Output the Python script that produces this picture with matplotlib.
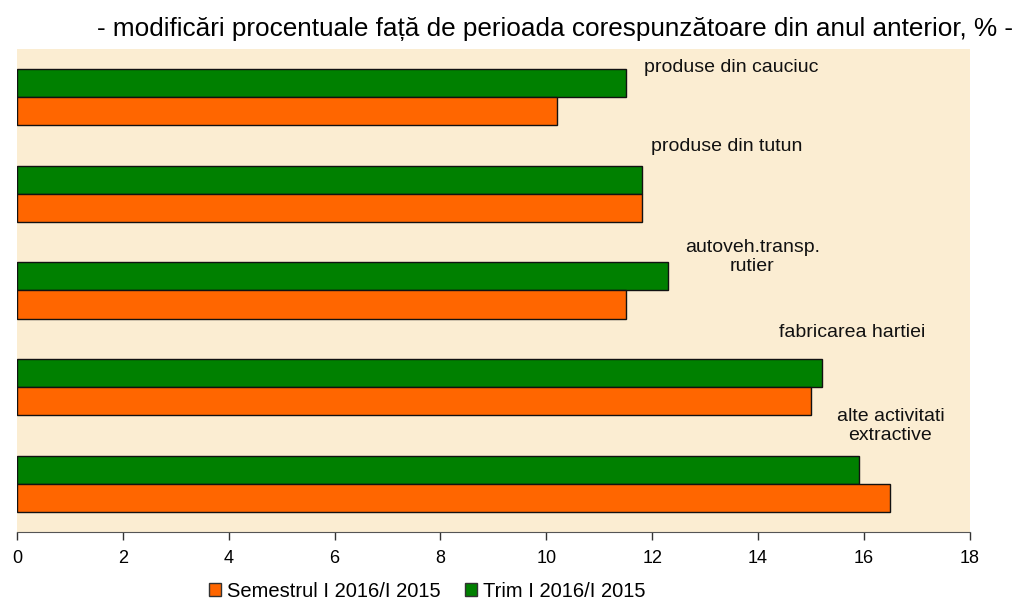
import matplotlib as mpl
import matplotlib.pyplot as plt
import numpy as np
from matplotlib.patches import Patch

categories = [
    "produse din cauciuc",
    "produse din tutun",
    "autoveh.transp.\nrutier",
    "fabricarea hartiei",
    "alte activitati\nextractive",
]
trim = [11.5, 11.8, 12.3, 15.2, 15.9]
semestru = [10.2, 11.8, 11.5, 15.0, 16.5]
series_labels = ["Semestrul I 2016/I 2015", "Trim I 2016/I 2015"]
title = "- modificări procentuale față de perioada corespunzătoare din anul anterior, % -"

# label placement in data coordinates (x value, y category position)
label_pos = [(13.49, -0.31), (13.40, 0.51), (13.89, 1.65), (15.77, 2.44), (16.50, 3.40)]

ORANGE = "#FF6600"
GREEN = "#008000"
BG = "#FBEDD2"

mpl.rcParams["font.family"] = ["Liberation Sans", "DejaVu Sans"]

fig = plt.figure(figsize=(10.18, 6.01), dpi=100)
ax = fig.add_axes([0.0167, 0.1148, 0.936, 0.8037])
ax.set_facecolor(BG)

y = np.arange(len(categories))
h = 0.29
ax.barh(y - h / 2, trim, height=h, color=GREEN, edgecolor="#111111", linewidth=1.0)
ax.barh(y + h / 2, semestru, height=h, color=ORANGE, edgecolor="#111111", linewidth=1.0)

for text, (lx, ly) in zip(categories, label_pos):
    ax.text(lx, ly, text, ha="center", va="center", fontsize=14,
            linespacing=1.15, color="#111111")

ax.set_xlim(0, 18)
ax.set_ylim(len(categories) - 0.5, -0.5)
ax.set_xticks(np.arange(0, 19, 2))
ax.set_yticks([])
for side in ["top", "right", "left"]:
    ax.spines[side].set_visible(False)
ax.spines["bottom"].set_color("#555555")
ax.tick_params(axis="x", direction="out", length=6, width=1, color="#333333",
               labelsize=13, pad=7)

fig.text(0.545, 0.952, title, ha="center", va="center", fontsize=18.8)

handles = [
    Patch(facecolor=ORANGE, edgecolor="#333333", label=series_labels[0]),
    Patch(facecolor=GREEN, edgecolor="#333333", label=series_labels[1]),
]
fig.legend(handles=handles, loc="center", bbox_to_anchor=(0.42, 0.016), ncol=2,
           frameon=False, fontsize=14.5, handlelength=0.6, handleheight=0.6,
           handletextpad=0.3, columnspacing=1.2, borderpad=0.1)

fig.savefig("out.png", dpi=100)
